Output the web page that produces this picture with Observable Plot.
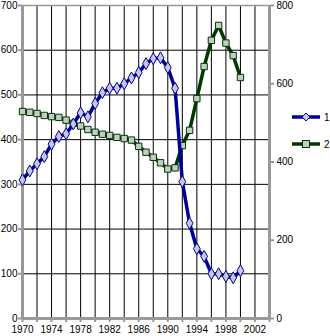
<!DOCTYPE html>
<html><head><meta charset="utf-8">
<script src="https://cdn.jsdelivr.net/npm/d3@7"></script>
<script src="https://cdn.jsdelivr.net/npm/@observablehq/plot@0.6"></script>
<style>
body{margin:0;background:#fff;font-family:"Liberation Sans",Arial,sans-serif;}
#wrap{position:relative;width:330px;height:336px;overflow:hidden;}
#legend{position:absolute;left:292px;top:108px;font-size:10px;width:38px;white-space:nowrap;}
.item{display:flex;align-items:center;height:18px;margin-bottom:9px;}
.item span{margin-left:4px;}
</style></head>
<body><div id="wrap"><div id="chart"></div><div id="legend"></div></div>
<script>
const years = d3.range(1970, 2001);
const series1 = [310,330,346,362,390,407,413,435,460,451,481,505,515,515,525,538,550,570,581,583,561,515,306,213,156,139,100,100,94,91,107];
const series2 = [529,527,524,519,516,514,507,499,492,483,476,471,468,463,460,456,440,425,412,398,382,385,442,481,562,644,711,749,704,672,616];
const seriesNames = ["1","2"];
const leftTicks = [0,100,200,300,400,500,600,700];
const rightTicks = [0,200,400,600,800];
const xLabelTicks = [1970,1974,1978,1982,1986,1990,1994,1998,2002];
const xGridTicks = d3.range(1970, 2005, 2);

const blue = "#000099", green = "#003800";
const blueFill = "#c8c8dc", greenFill = "#c4ccc4";
const k = 700/800;
const d1 = years.map((y,i)=>({year:y, v:series1[i]}));
const d2 = years.map((y,i)=>({year:y, v:series2[i]*k}));

const chart = Plot.plot({
  width:330, height:336,
  marginLeft:22, marginRight:61, marginTop:5, marginBottom:18,
  x:{domain:[1970,2004]},
  y:{domain:[0,700]},
  style:{fontFamily:"Liberation Sans, Arial, sans-serif", fontSize:"10px", background:"white", overflow:"visible", color:"black"},
  marks:[
    Plot.ruleY(leftTicks.filter(d=>d>0 && d<700), {stroke:"black", strokeWidth:1}),
    Plot.ruleX(xGridTicks.filter(d=>d>1970 && d<2004), {stroke:"black", strokeWidth:1}),
    Plot.ruleY([700], {stroke:"#999", strokeWidth:1.5}),
    Plot.axisY({ticks:leftTicks, tickSize:4, tickPadding:1, tickFormat:d=>String(d), label:null, stroke:"#999", strokeWidth:2, fill:"black"}),
    Plot.axisY({anchor:"right", ticks:rightTicks.map(d=>d*k), tickSize:4, tickPadding:3, tickFormat:d=>String(Math.round(d/k)), label:null, stroke:"#999", strokeWidth:2, fill:"black"}),
    Plot.axisX({ticks:xGridTicks, tickSize:4, tickFormat:()=>"", label:null, stroke:"#999", strokeWidth:2}),
    Plot.axisX({ticks:xLabelTicks, tickSize:0, tickPadding:7, tickFormat:d=>String(d), label:null, fill:"black"}),
    Plot.ruleX([1970,2004], {stroke:"#999", strokeWidth:3}),
    Plot.ruleY([0], {stroke:"#999", strokeWidth:3}),
    Plot.line(d2, {x:"year", y:"v", stroke:green, strokeWidth:3.5}),
    Plot.dot(d2, {x:"year", y:"v", symbol:"square", r:3.6, fill:greenFill, stroke:green, strokeWidth:1}),
    Plot.line(d1, {x:"year", y:"v", stroke:blue, strokeWidth:3.5}),
    Plot.dot(d1, {x:"year", y:"v", symbol:"diamond", r:3.6, fill:blueFill, stroke:blue, strokeWidth:1})
  ]
});
document.getElementById("chart").appendChild(chart);

const legend = document.getElementById("legend");
const specs = [
  {name:seriesNames[0], color:blue, fill:blueFill, shape:"diamond"},
  {name:seriesNames[1], color:green, fill:greenFill, shape:"square"}
];
for (const s of specs) {
  const div = document.createElement("div"); div.className = "item";
  const marker = s.shape === "diamond"
    ? `<path d="M14,5 L18,9 L14,13 L10,9 Z" fill="${s.fill}" stroke="${s.color}" stroke-width="1"/>`
    : `<rect x="10.5" y="5.5" width="7" height="7" fill="${s.fill}" stroke="${s.color}" stroke-width="1"/>`;
  div.innerHTML = `<svg width="28" height="18"><line x1="0" x2="28" y1="9" y2="9" stroke="${s.color}" stroke-width="3.5"/>${marker}</svg><span>${s.name}</span>`;
  legend.appendChild(div);
}
</script></body></html>
